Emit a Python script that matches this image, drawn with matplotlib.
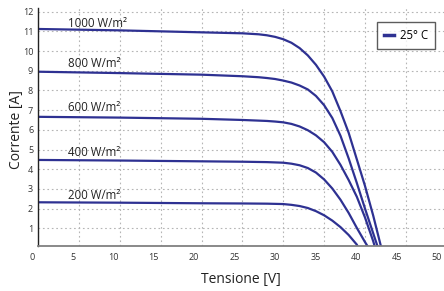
import matplotlib
matplotlib.use("Agg")
import matplotlib.pyplot as plt
import matplotlib.transforms as mtrans

plt.rcParams['font.family'] = ['Open Sans', 'DejaVu Sans']

# curve data (V, A)
v_1000 = [0, 10, 20, 25, 27, 28, 29, 30, 31, 32, 33, 34, 35, 36, 37, 38, 39, 40, 41, 42]
i_1000 = [11.12, 11.05, 10.95, 10.9, 10.85, 10.8, 10.72, 10.6, 10.42, 10.15, 9.78, 9.3, 8.7,
          7.95, 6.95, 5.85, 4.5, 3.15, 1.65, 0.0]

v_800 = [0, 10, 20, 25, 27, 28, 29, 30, 31, 32, 33, 34, 35, 36, 37, 38, 39, 40, 41, 41.6]
i_800 = [8.95, 8.88, 8.8, 8.72, 8.67, 8.63, 8.58, 8.5, 8.4, 8.25, 8.05, 7.72, 7.25, 6.6,
         5.7, 4.55, 3.3, 2.0, 0.75, 0.0]

v_600 = [0, 10, 20, 25, 28, 29, 30, 31, 32, 33, 34, 35, 36, 37, 38, 39, 40, 41, 41.25]
i_600 = [6.66, 6.62, 6.56, 6.5, 6.45, 6.42, 6.38, 6.3, 6.17, 5.98, 5.72, 5.37, 4.88, 4.22,
         3.45, 2.6, 1.55, 0.35, 0.0]

v_400 = [0, 10, 20, 25, 28, 30, 31, 32, 33, 34, 35, 36, 37, 38, 39, 40, 40.45]
i_400 = [4.47, 4.44, 4.4, 4.38, 4.36, 4.33, 4.28, 4.2, 4.06, 3.83, 3.48, 3.02, 2.45, 1.78,
         1.02, 0.3, 0.0]

v_200 = [0, 10, 20, 25, 28, 30, 31, 32, 33, 34, 35, 36, 37, 38, 39, 39.2]
i_200 = [2.32, 2.3, 2.27, 2.26, 2.25, 2.23, 2.19, 2.13, 2.03, 1.87, 1.66, 1.39, 1.06, 0.66,
         0.17, 0.0]

curves = [(v_1000, i_1000), (v_800, i_800), (v_600, i_600), (v_400, i_400), (v_200, i_200)]
labels = ['1000 W/m²', '800 W/m²', '600 W/m²', '400 W/m²', '200 W/m²']
label_y = [11.2, 9.2, 6.93, 4.67, 2.49]

x_ticks = [0, 5, 10, 15, 20, 25, 30, 35, 40, 45, 50]
y_ticks = [1, 2, 3, 4, 5, 6, 7, 8, 9, 10, 11, 12]

blue = '#2e3192'

fig = plt.figure(figsize=(4.44, 2.91), dpi=100)
ax = fig.add_axes([0.0856, 0.1546, 0.939, 0.8189])

for k, (v, i) in enumerate(curves):
    ax.plot(v, i, color=blue, lw=1.6, label='25° C' if k == 0 else None,
            solid_joinstyle='round')

for lab, ly in zip(labels, label_y):
    ax.text(3.7, ly, lab, fontsize=8.3, color='#222222', va='baseline')

ax.set_xlim(0, 51)
ax.set_ylim(0.1, 12.2)
ax.set_xticks(x_ticks)
ax.set_yticks(y_ticks)
ax.tick_params(length=0, labelsize=6.5, colors='#333333')
ax.tick_params(axis='x', pad=5)
ax.tick_params(axis='y', pad=3.5)

# x tick labels sit left of their grid lines in the original, more so to the right
for t, xv in zip(ax.get_xticklabels(), x_ticks):
    off = mtrans.ScaledTranslation((-6 - 0.075 * xv) / 100, 0, fig.dpi_scale_trans)
    t.set_transform(t.get_transform() + off)

ax.grid(True, color='#b5b5b5', linestyle=(0, (1.5, 2.5)), lw=0.8)
ax.set_axisbelow(True)

for s in ['top', 'right']:
    ax.spines[s].set_visible(False)
ax.spines['left'].set_color('#222222')
ax.spines['left'].set_linewidth(1.0)
ax.spines['bottom'].set_color('#808080')
ax.spines['bottom'].set_linewidth(1.3)

fig.text(241 / 444, 1 - 280 / 291, 'Tensione [V]', fontsize=10, ha='center', va='center', color='#222222')
fig.text(17 / 444, 1 - 130 / 291, 'Corrente [A]', fontsize=10, ha='center', va='center',
         rotation=90, color='#222222')

leg = fig.legend(loc='upper right', bbox_to_anchor=(441 / 444, 1 - 16 / 291),
                 fontsize=8.3, handlelength=0.9, handletextpad=0.5,
                 borderpad=0.6, frameon=True, fancybox=False)
leg.get_frame().set_edgecolor('#333333')
leg.get_frame().set_linewidth(1.0)
for h in leg.get_lines():
    h.set_linewidth(2.5)

fig.savefig('out.png', dpi=100)
